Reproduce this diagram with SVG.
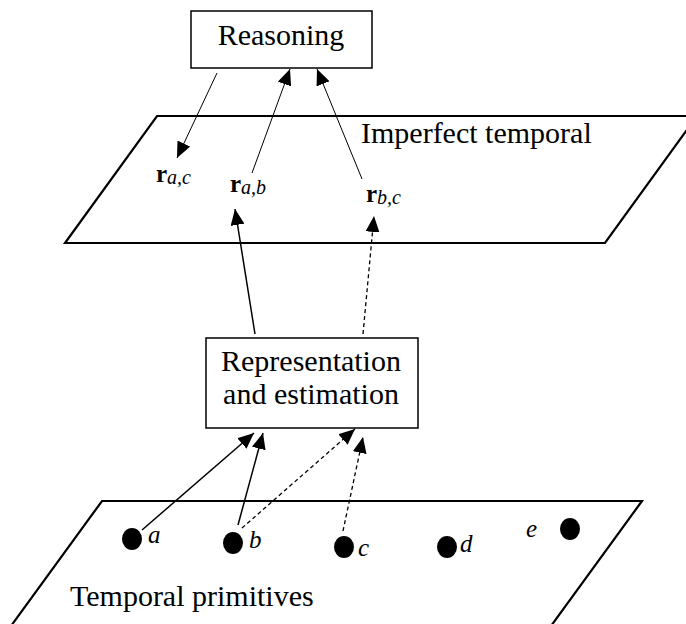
<svg xmlns="http://www.w3.org/2000/svg" width="686" height="624" viewBox="0 0 686 624">
<style>
.box{fill:#fff;stroke:#000;stroke-width:1.5}
.plane{fill:#fff;stroke:#000;stroke-width:2.2;stroke-linejoin:miter}
.t{font-family:"Liberation Serif","Times New Roman",serif;font-size:30px;fill:#000}
.r{font-family:"Liberation Serif","Times New Roman",serif;font-size:25px;font-weight:bold;fill:#000}
.sub{font-family:"Liberation Serif","Times New Roman",serif;font-size:20px;font-style:italic;font-weight:normal}
.lab{font-family:"Liberation Serif","Times New Roman",serif;font-size:25px;font-style:italic;fill:#000}
.thin{stroke:#000;stroke-width:1;fill:none}
.mid{stroke:#000;stroke-width:1.5;fill:none}
.dash{stroke:#000;stroke-width:1.3;fill:none;stroke-dasharray:4 3}
.dot{fill:#000}
</style>
<defs>
<marker id="ah" viewBox="0 0 16 14" refX="16" refY="7" markerWidth="16" markerHeight="14" markerUnits="userSpaceOnUse" orient="auto">
<path d="M0,0 L16,7 L0,14 z" fill="#000"/>
</marker>
</defs>

<g id="plane-imperfect">
<polygon class="plane" points="157,116 697,116 605,243 65,243"/>
<text class="t" x="361" y="143">Imperfect temporal</text>
</g>

<g id="plane-primitives">
<polygon class="plane" points="102,501 642,501 551,626 11,626"/>
<text class="t" x="70" y="606">Temporal primitives</text>
</g>

<g id="reasoning">
<rect class="box" x="191" y="11" width="181" height="57"/>
<text class="t" x="281" y="45" text-anchor="middle">Reasoning</text>
</g>

<g id="representation">
<rect class="box" x="206" y="338" width="212" height="90"/>
<text class="t" x="311" y="371" text-anchor="middle">Representation</text>
<text class="t" x="311" y="404" text-anchor="middle">and estimation</text>
</g>

<g id="r-ac"><text class="r" x="156" y="182">r<tspan class="sub" dy="2">a,c</tspan></text></g>
<g id="r-ab"><text class="r" x="230" y="192">r<tspan class="sub" dy="2">a,b</tspan></text></g>
<g id="r-bc"><text class="r" x="366" y="202">r<tspan class="sub" dy="2">b,c</tspan></text></g>

<g id="prim-a"><ellipse class="dot" cx="132" cy="539" rx="10" ry="11"/><text class="lab" x="148" y="543">a</text></g>
<g id="prim-b"><ellipse class="dot" cx="233" cy="543" rx="10" ry="11"/><text class="lab" x="249" y="548">b</text></g>
<g id="prim-c"><ellipse class="dot" cx="344" cy="547" rx="10" ry="11"/><text class="lab" x="358" y="556">c</text></g>
<g id="prim-d"><ellipse class="dot" cx="447" cy="547" rx="10" ry="11"/><text class="lab" x="460" y="552">d</text></g>
<g id="prim-e"><ellipse class="dot" cx="570" cy="529" rx="10" ry="11"/><text class="lab" x="526" y="537">e</text></g>

<g id="connectors">
<line class="thin" x1="217" y1="73" x2="177" y2="158" marker-end="url(#ah)"/>
<line class="thin" x1="252" y1="173" x2="290" y2="69" marker-end="url(#ah)"/>
<line class="thin" x1="362" y1="179" x2="317" y2="69" marker-end="url(#ah)"/>
<line class="mid" x1="255" y1="334" x2="235" y2="209" marker-end="url(#ah)"/>
<line class="dash" x1="363" y1="334" x2="374" y2="216" marker-end="url(#ah)"/>
<line class="mid" x1="142" y1="530" x2="254" y2="433" marker-end="url(#ah)"/>
<line class="mid" x1="238" y1="525" x2="263" y2="433" marker-end="url(#ah)"/>
<line class="dash" x1="242" y1="528" x2="355" y2="429" marker-end="url(#ah)"/>
<line class="dash" x1="343" y1="531" x2="363" y2="437" marker-end="url(#ah)"/>
</g>
</svg>
